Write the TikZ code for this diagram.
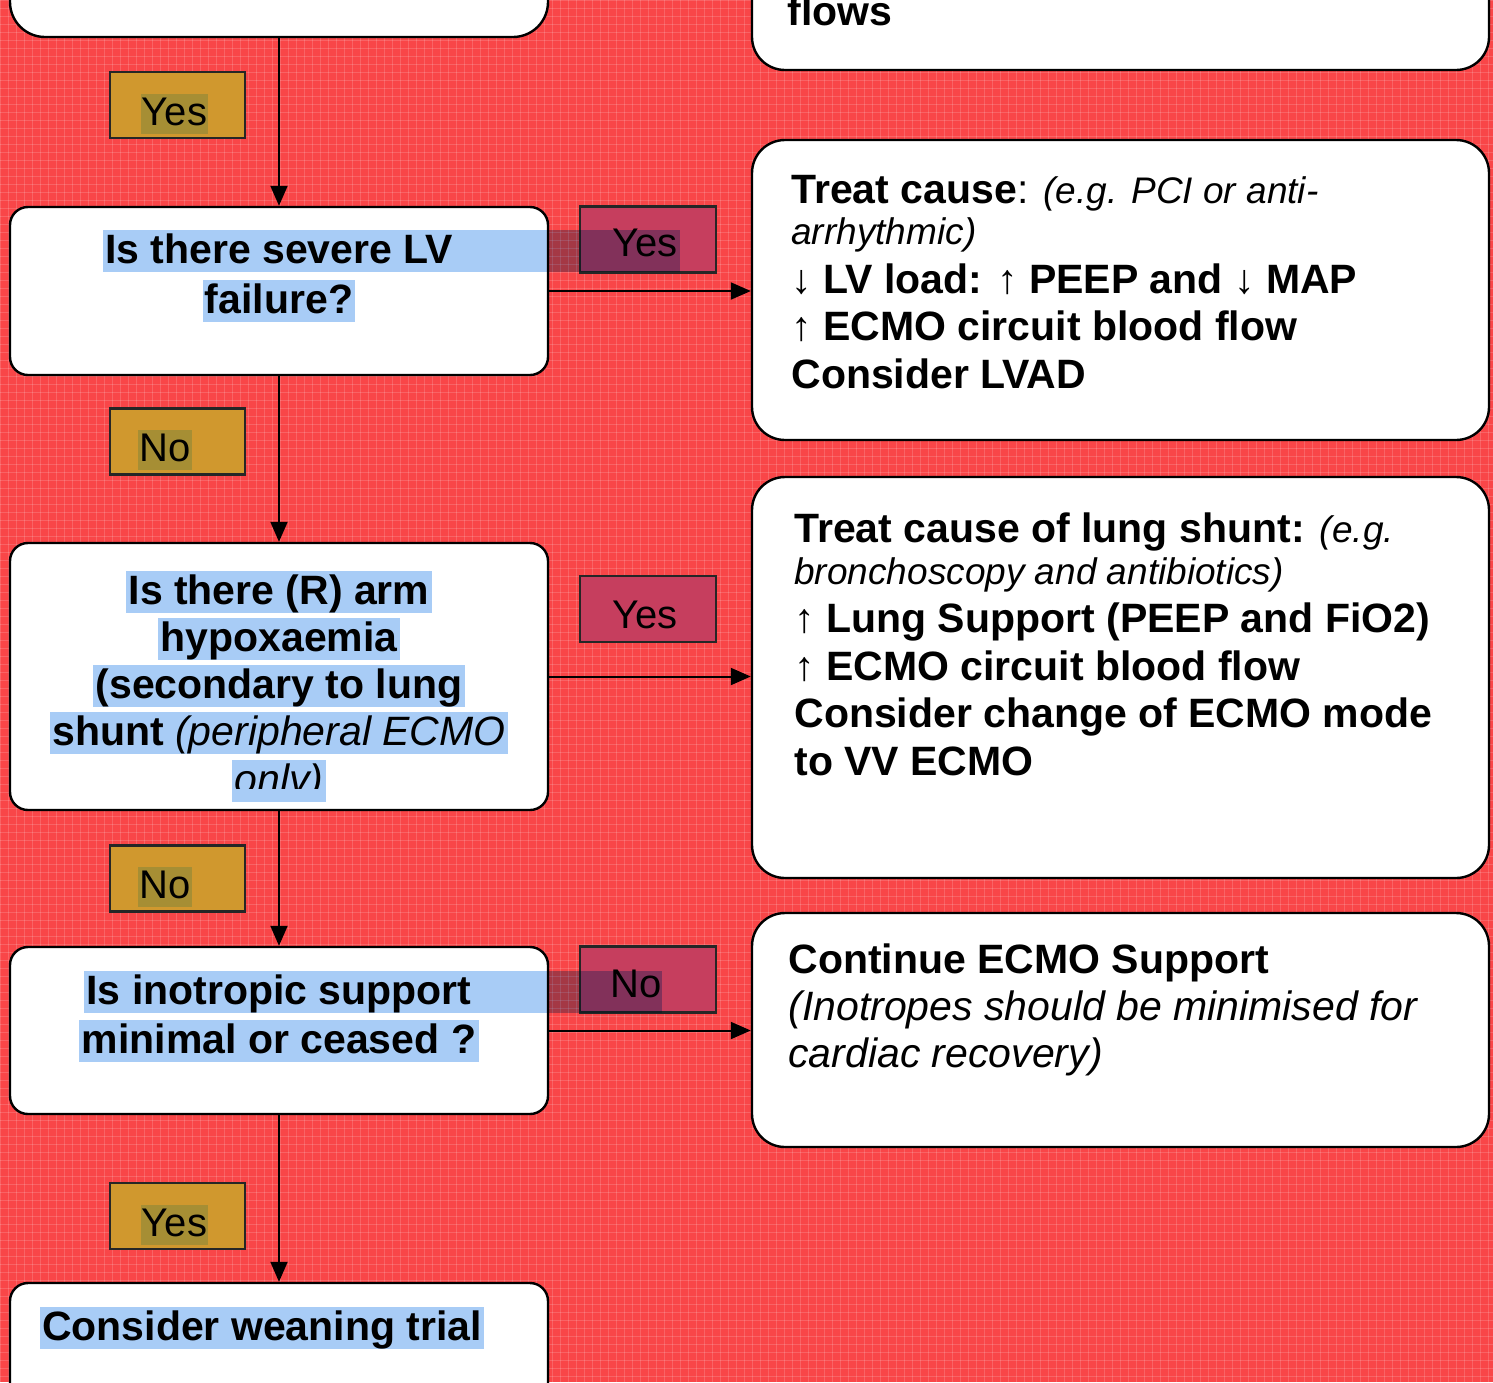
\documentclass[tikz,border=0pt]{standalone}
\usepackage{fontspec}
\setmainfont{Liberation Sans}
\usetikzlibrary{arrows.meta}

\definecolor{sheet}{RGB}{249,70,72}
\definecolor{gold}{RGB}{208,152,46}
\definecolor{goldhl}{RGB}{166,142,52}
\definecolor{rose}{RGB}{198,62,94}
\definecolor{hlblue}{RGB}{168,204,246}

\pgfdeclarelayer{back}
\pgfdeclarelayer{shapes}
\pgfdeclarelayer{marks}
\pgfsetlayers{back,shapes,marks,main}

\newcommand\mainsize{\fontsize{20.5}{24}\selectfont}
\newcommand\notesize{\fontsize{18.5}{22}\selectfont}
\newcommand\arrup{\textmd{↑}}
\newcommand\arrdown{\textmd{↓}}
\newcommand\note[1]{{\mdseries\itshape\notesize #1}}

\begin{document}
\begin{tikzpicture}[x=0.5pt,y=-0.5pt,
  qbox/.style={draw=black, line width=1.2pt, fill=white, rounded corners=9pt,
    inner sep=0pt, minimum width=269pt},
  abox/.style={draw=black, line width=1.2pt, fill=white, rounded corners=16.5pt,
    inner sep=0pt, minimum width=368.5pt},
  tag/.style={draw=black!85, line width=1.3pt, inner sep=0pt, minimum height=33pt},
  goldtag/.style={tag, fill=gold, minimum width=67.5pt},
  rosetag/.style={tag, fill=rose, minimum width=68pt},
  tagtext/.style={font=\fontsize{20}{24}\selectfont, inner xsep=0.5pt, inner ysep=0pt,
    text height=15.5pt, text depth=4.5pt, anchor=base},
  goldtext/.style={tagtext, fill=goldhl},
  qline/.style={font=\bfseries\mainsize, inner xsep=1pt, inner ysep=0pt,
    text height=16.5pt, text depth=4.5pt, anchor=base},
  aline/.style={font=\bfseries\mainsize, inner sep=0pt, anchor=base west},
  flow/.style={line width=1pt, -{Triangle[length=10pt,width=8.5pt]}},
  gridline/.style={white, opacity=0.16, line width=0.5pt}]

\useasboundingbox (0,0) rectangle (1493,1382);

% red sheet with its fine grid
\begin{pgfonlayer}{back}
  \fill[sheet] (0,0) rectangle (1493,1382);
  \foreach \i in {0,8,...,1496} \draw[gridline] (\i,0) -- (\i,1382);
  \foreach \j in {0,8,...,1384} \draw[gridline] (0,\j) -- (1493,\j);
\end{pgfonlayer}

% boxes and yes/no tags
\begin{pgfonlayer}{shapes}
  % question column
  \node[qbox, rounded corners=17.5pt, minimum height=93.5pt] (prevq) at (279,-56.5) {};
  \node[qbox, minimum height=84pt]    (lvq)   at (279,291) {};
  \node[qbox, minimum height=133.5pt] (armq)  at (279,676.5) {};
  \node[qbox, minimum height=83.5pt]  (inoq)  at (279,1030.5) {};
  \node[qbox, minimum height=78.5pt]  (weanq) at (279,1361.5) {};
  % action column
  \node[abox, minimum height=110pt]   (preva) at (1120.5,-40) {};
  \node[abox, minimum height=150pt]   (lva)   at (1120.5,290) {};
  \node[abox, minimum height=200.5pt] (arma)  at (1120.5,677.5) {};
  \node[abox, minimum height=117pt]   (inoa)  at (1120.5,1030) {};
  % tags
  \node[goldtag] (tagyes1) at (177.5,105) {};
  \node[goldtag] (tagno1)  at (177.5,441.5) {};
  \node[goldtag] (tagno2)  at (177.5,878.5) {};
  \node[goldtag] (tagyes4) at (177.5,1216) {};
  \node[rosetag] (tagyes2) at (648,239.5) {};
  \node[rosetag] (tagyes3) at (648,609) {};
  \node[rosetag] (tagno3)  at (648,979.5) {};
\end{pgfonlayer}

% tag texts
\node[goldtext] (tyes1) at (174.5,125) {Yes};
\node[goldtext] (tno1)  at (165,461)   {No};
\node[goldtext] (tno2)  at (165,898)   {No};
\node[goldtext] (tyes4) at (174.5,1236) {Yes};
\node[tagtext]  (tyes2) at (645,256)   {Yes};
\node[tagtext]  (tyes3) at (645,628)   {Yes};
\node[tagtext]  (tno3)  at (636,997)   {No};

% questions
\node[qline] (lv1) at (279,263) {Is there severe LV};
\node[qline] (lv2) at (279,313) {failure?};
\node[qline] (ar1) at (279,604) {Is there (R) arm};
\node[qline] (ar2) at (279,651) {hypoxaemia};
\node[qline] (ar3) at (279,698) {(secondary to lung};
\node[qline] (ar4) at (279,745) {shunt {\mdseries\itshape (peripheral ECMO}};
\begin{scope}
  \clip (0,0) rectangle (1493,788);
  \node[qline] (ar5) at (279,793) {\mdseries\itshape only)};
\end{scope}
\node[qline] (in1) at (279,1004) {Is inotropic support};
\node[qline] (in2) at (279,1053) {minimal or ceased ?};
\node[qline] (wn1) at (262,1340) {Consider weaning trial};

% actions
\node[aline] (pa1) at (787,25) {flows};

\node[aline] (la1) at (791,203) {Treat cause\mdseries: \note{(e.g. PCI or anti-}};
\node[aline] (la2) at (791,244) {\note{arrhythmic)}};
\node[aline] (la3) at (791,293) {\arrdown{} LV load: \arrup{} PEEP and \arrdown{} MAP};
\node[aline] (la4) at (791,340) {\arrup{} ECMO circuit blood flow};
\node[aline] (la5) at (791,388) {Consider LVAD};

\node[aline] (aa1) at (794,542) {Treat cause of lung shunt: \note{(e.g.}};
\node[aline] (aa2) at (794,584) {\note{bronchoscopy and antibiotics)}};
\node[aline] (aa3) at (794,632) {\arrup{} Lung Support (PEEP and FiO2)};
\node[aline] (aa4) at (794,680) {\arrup{} ECMO circuit blood flow};
\node[aline] (aa5) at (794,727) {Consider change of ECMO mode};
\node[aline] (aa6) at (794,775) {to VV ECMO};

\node[aline] (ia1) at (788,973)  {Continue ECMO Support};
\node[aline] (ia2) at (788,1020) {\mdseries\itshape (Inotropes should be minimised for};
\node[aline] (ia3) at (788,1067) {\mdseries\itshape cardiac recovery)};

% text highlighting
\coordinate (lvend)  at (680,0);
\coordinate (inoend) at (662,0);
\begin{pgfonlayer}{marks}
  \begin{scope}[blend mode=multiply]
    \foreach \n in {lv2,ar1,ar2,ar3,ar4,ar5,in2,wn1}
      \fill[hlblue] (\n.south west) rectangle (\n.north east);
    \fill[hlblue] (lv1.south west) rectangle (lv1.north -| lvend);
    \fill[hlblue] (in1.south west) rectangle (in1.north -| inoend);
  \end{scope}
\end{pgfonlayer}

% connectors
\draw[flow] (prevq.south) -- (lvq.north);
\draw[flow] (lvq.south)   -- (armq.north);
\draw[flow] (armq.south)  -- (inoq.north);
\draw[flow] (inoq.south)  -- (weanq.north);
\draw[flow] (lvq.east)    -- (lvq.east -| lva.west);
\draw[flow] (armq.east)   -- (armq.east -| arma.west);
\draw[flow] (inoq.east)   -- (inoq.east -| inoa.west);
\end{tikzpicture}
\end{document}
